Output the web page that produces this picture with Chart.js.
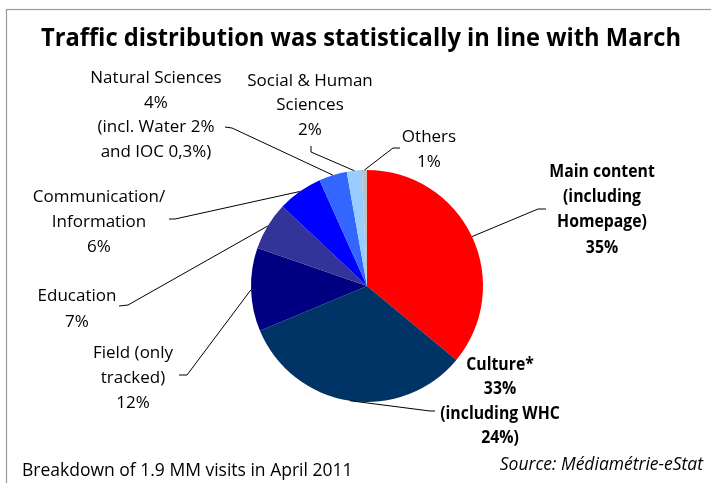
<!DOCTYPE html>
<html><head><meta charset="utf-8">
<script src="https://cdn.jsdelivr.net/npm/chart.js@4/dist/chart.umd.min.js"></script>
<style>html,body{margin:0;padding:0;background:#fff;} #wrap{width:711px;height:483px;position:relative;}</style>
</head><body><div id="wrap"><canvas id="c" width="711" height="483"></canvas></div>
<script>
// ---- data ----
const categories = ['Main content (including Homepage)', 'Culture* (including WHC 24%)', 'Field (only tracked)', 'Education', 'Communication/Information', 'Natural Sciences (incl. Water 2% and IOC 0,3%)', 'Social & Human Sciences', 'Others'];
const shares = [36.0, 32.7, 11.6, 6.7, 6.3, 3.9, 2.1, 0.7];
const labelLines = [
  ['Main content', '(including', 'Homepage)', '35%'],
  ['Culture*', '33%', '(including WHC', '24%)'],
  ['Field (only', 'tracked)', '12%'],
  ['Education', '7%'],
  ['Communication/', 'Information', '6%'],
  ['Natural Sciences', '4%', '(incl. Water 2%', 'and IOC 0,3%)'],
  ['Social & Human', 'Sciences', '2%'],
  ['Others', '1%']
];
const sliceColors = ['#FF0000', '#003366', '#000080', '#333399', '#0000FF', '#3366FF', '#99CCFF', '#C0C0C0'];
const titleText = 'Traffic distribution was statistically in line with March';
const footnoteText = 'Breakdown of 1.9 MM visits in April 2011';
const sourceText = 'Source: Médiamétrie-eStat';

// ---- layout (positions only) ----
const labelLayout = [
  {cx: 602, y: 172, lh: 25.3, bold: true,  elbow: [538, 209], end: [546, 209]},
  {cx: 500, y: 365, lh: 24.5, bold: true,  elbow: [430, 411], end: [435, 411]},
  {cx: 133, y: 353, lh: 25,   bold: false, elbow: [187, 375], end: [179, 375]},
  {cx: 77,  y: 296, lh: 26,   bold: false, elbow: [128, 305], end: [119, 306]},
  {cx: 99,  y: 197, lh: 25,   bold: false, elbow: [175, 219], end: [169, 219]},
  {cx: 156, y: 78,  lh: 24.7, bold: false, elbow: [232, 128], end: [225, 127]},
  {cx: 310, y: 81,  lh: 24.5, bold: false, elbow: [311, 152], end: [311, 146]},
  {cx: 429, y: 137, lh: 25,   bold: false, elbow: [393, 148], end: [400, 148]}
];
const pieYScale = 1.0;

function drawText(ctx, text, x, y, font, align, sx) {
  ctx.save();
  ctx.font = font;
  ctx.textAlign = align;
  ctx.textBaseline = 'middle';
  ctx.translate(x, y);
  ctx.scale(sx, 1);
  ctx.fillText(text, 0, 0);
  ctx.restore();
}

const decor = {
  id: 'decor',
  beforeDraw(chart) {
    const ctx = chart.ctx;
    ctx.save();
    ctx.fillStyle = '#fff';
    ctx.fillRect(0, 0, chart.width, chart.height);
    ctx.strokeStyle = '#9a9a9a';
    ctx.lineWidth = 1.2;
    ctx.strokeRect(6.5, 9.5, 900, 700);
    ctx.restore();
  },
  beforeDatasetsDraw(chart) {
    const el = chart.getDatasetMeta(0).data[0];
    const ctx = chart.ctx;
    ctx.save();
    ctx.translate(el.x, el.y);
    ctx.scale(1, pieYScale);
    ctx.translate(-el.x, -el.y);
  },
  afterDatasetsDraw(chart) {
    chart.ctx.restore();
  },
  afterDraw(chart) {
    const ctx = chart.ctx;
    const meta = chart.getDatasetMeta(0);
    ctx.save();
    ctx.fillStyle = '#000';
    // title
    ctx.font = 'bold 25px "Open Sans"';
    ctx.textAlign = 'center';
    ctx.textBaseline = 'alphabetic';
    ctx.fillText(titleText, 361, 46, 640);
    // leader lines + labels
    ctx.strokeStyle = '#000';
    ctx.lineWidth = 1;
    meta.data.forEach((arc, i) => {
      const L = labelLayout[i];
      const mid = (arc.startAngle + arc.endAngle) / 2;
      const px = arc.x + Math.cos(mid) * arc.outerRadius;
      const py = arc.y + Math.sin(mid) * arc.outerRadius * pieYScale;
      ctx.beginPath();
      ctx.moveTo(px, py);
      ctx.lineTo(L.elbow[0], L.elbow[1]);
      ctx.lineTo(L.end[0], L.end[1]);
      ctx.stroke();
      labelLines[i].forEach((t, k) => {
        const font = L.bold ? 'bold 17px "Open Sans"' : '17px "Open Sans"';
        drawText(ctx, t, L.cx, L.y + k * L.lh, font, 'center', L.bold ? 0.93 : 1.0);
      });
    });
    // footnotes
    drawText(ctx, footnoteText, 22, 471, '17.5px "Open Sans"', 'left', 1.0);
    drawText(ctx, sourceText, 703, 465, 'italic 17.5px "Open Sans"', 'right', 1.0);
    ctx.restore();
  }
};

new Chart(document.getElementById('c'), {
  type: 'pie',
  data: {
    labels: categories,
    datasets: [{
      data: shares,
      backgroundColor: sliceColors,
      borderWidth: 0
    }]
  },
  options: {
    responsive: false,
    devicePixelRatio: 1,
    animation: false,
    layout: {padding: {left: 251, right: 228, top: 170, bottom: 81}},
    plugins: {legend: {display: false}, tooltip: {enabled: false}, title: {display: false}}
  },
  plugins: [decor]
});
</script>
</body></html>
